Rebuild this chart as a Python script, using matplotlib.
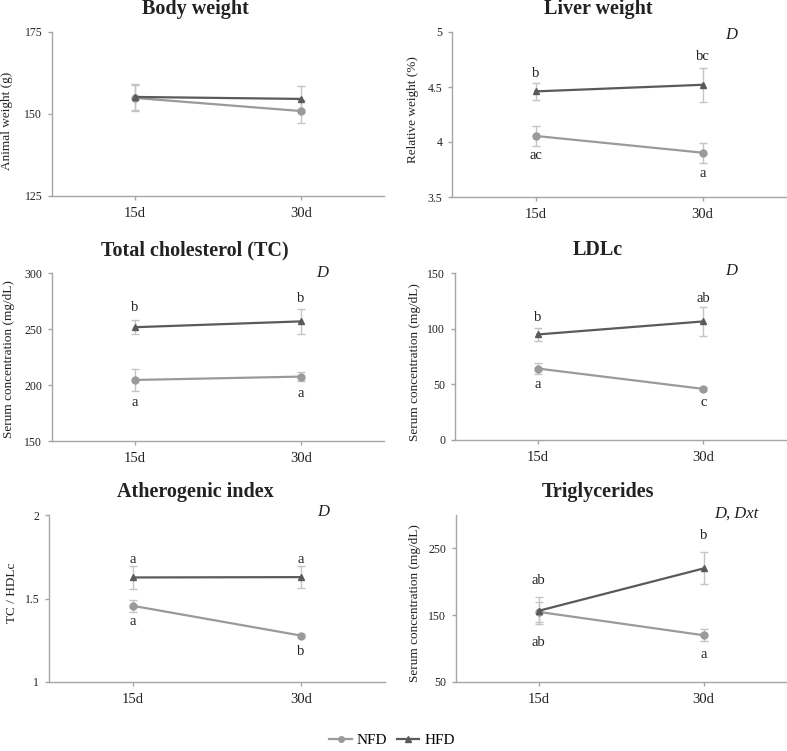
import numpy as np
import matplotlib.pyplot as plt
from matplotlib.lines import Line2D
from matplotlib.ticker import FuncFormatter

plt.rcParams['font.family'] = ['Liberation Serif', 'DejaVu Serif']

days = ['15d', '30d']

# Body weight (g)
bw_nfd = [154.9, 150.9]
bw_nfd_err = [4.0, 3.5]
bw_hfd = [155.2, 154.6]
bw_hfd_err = [4.0, 4.0]

# Liver weight (% of body weight)
lw_nfd = [4.055, 3.903]
lw_nfd_err = [0.09, 0.09]
lw_hfd = [4.46, 4.52]
lw_hfd_err = [0.077, 0.155]

# Total cholesterol (mg/dL)
tc_nfd = [204.5, 207.5]
tc_nfd_err = [9.5, 4.0]
tc_hfd = [251.6, 256.8]
tc_hfd_err = [6.0, 11.0]

# LDLc (mg/dL)
ldl_nfd = [64.2, 45.9]
ldl_nfd_err = [5.0, 1.5]
ldl_hfd = [94.8, 106.5]
ldl_hfd_err = [6.0, 13.0]

# Atherogenic index (TC / HDLc)
ai_nfd = [1.456, 1.278]
ai_nfd_err = [0.035, 0.01]
ai_hfd = [1.626, 1.628]
ai_hfd_err = [0.07, 0.068]

# Triglycerides (mg/dL)
tg_nfd = [155.0, 120.0]
tg_nfd_err = [15.0, 9.0]
tg_hfd = [156.5, 220.0]
tg_hfd_err = [20.0, 24.0]

# significance letters per panel: (day index, y, letter)
lw_letters = [(0, 4.62, 'b'), (1, 4.78, 'bc'), (0, 3.88, 'ac'), (1, 3.71, 'a')]
tc_letters = [(0, 269, 'b'), (1, 277, 'b'), (0, 184, 'a'), (1, 192, 'a')]
ldl_letters = [(0, 110, 'b'), (1, 127.5, 'ab'), (0, 50, 'a'), (1, 34, 'c')]
ai_letters = [(0, 1.736, 'a'), (1, 1.736, 'a'), (0, 1.364, 'a'), (1, 1.18, 'b')]
tg_letters = [(1, 270, 'b'), (0, 201.5, 'ab'), (0, 109, 'ab'), (1, 91.5, 'a')]

NFD_C = '#9a9a9a'
HFD_C = '#5a5a5a'
ERR_C = '#c4c4c4'
AX_C = '#a6a6a6'
TXT_C = '#222222'

W, H = 787, 751
fig = plt.figure(figsize=(W / 100, H / 100), dpi=100)


def px_axes(x0, y0, x1, y1):
    return fig.add_axes([x0 / W, 1 - y1 / H, (x1 - x0) / W, (y1 - y0) / H])


panels = [
    dict(box=(52, 32, 384, 196), title='Body weight', tx=195, ty=9,
         ylabel='Animal weight (g)', lx=7, ly=121,
         nfd=bw_nfd, nfde=bw_nfd_err, hfd=bw_hfd, hfde=bw_hfd_err,
         ylim=(125, 175), yticks=[125, 150, 175], letters=[], note=None),
    dict(box=(452, 32, 786, 197), title='Liver weight', tx=598, ty=9,
         ylabel='Relative weight (%)', lx=413, ly=110,
         nfd=lw_nfd, nfde=lw_nfd_err, hfd=lw_hfd, hfde=lw_hfd_err,
         ylim=(3.5, 5), yticks=[3.5, 4, 4.5, 5], letters=lw_letters,
         note=('D', 2.17, 4.97)),
    dict(box=(52, 273, 384, 441), title='Total cholesterol (TC)', tx=195, ty=250,
         ylabel='Serum concentration (mg/dL)', lx=9, ly=359,
         nfd=tc_nfd, nfde=tc_nfd_err, hfd=tc_hfd, hfde=tc_hfd_err,
         ylim=(150, 300), yticks=[150, 200, 250, 300], letters=tc_letters,
         note=('D', 2.13, 300)),
    dict(box=(455, 273, 786, 440), title='LDLc', tx=598, ty=250,
         ylabel='Serum concentration (mg/dL)', lx=415, ly=362,
         nfd=ldl_nfd, nfde=ldl_nfd_err, hfd=ldl_hfd, hfde=ldl_hfd_err,
         ylim=(0, 150), yticks=[0, 50, 100, 150], letters=ldl_letters,
         note=('D', 2.17, 152)),
    dict(box=(49, 515, 385, 682), title='Atherogenic index', tx=195, ty=492,
         ylabel='TC / HDLc', lx=12, ly=593,
         nfd=ai_nfd, nfde=ai_nfd_err, hfd=ai_hfd, hfde=ai_hfd_err,
         ylim=(1, 2), yticks=[1, 1.5, 2], letters=ai_letters,
         note=('D', 2.13, 2.016)),
    dict(box=(456, 515, 786, 682), title='Triglycerides', tx=598, ty=492,
         ylabel='Serum concentration (mg/dL)', lx=415, ly=603,
         nfd=tg_nfd, nfde=tg_nfd_err, hfd=tg_hfd, hfde=tg_hfd_err,
         ylim=(50, 300), yticks=[50, 150, 250], letters=tg_letters,
         note=('D, Dxt', 2.2, 302)),
]

x = np.arange(1, len(days) + 1)

for p in panels:
    ax = px_axes(*p['box'])
    ax.errorbar(x, p['hfd'], yerr=p['hfde'], fmt='none', ecolor=ERR_C,
                elinewidth=1, capsize=3, capthick=1, zorder=1)
    ax.errorbar(x, p['nfd'], yerr=p['nfde'], fmt='none', ecolor=ERR_C,
                elinewidth=1, capsize=3, capthick=1, zorder=1)
    ax.plot(x, p['nfd'], color=NFD_C, lw=1.6, marker='o', ms=5, zorder=3)
    ax.plot(x, p['hfd'], color=HFD_C, lw=1.6, marker='^', ms=5, zorder=4)

    ax.set_xlim(0.5, 2.5)
    ax.set_ylim(*p['ylim'])
    ax.set_xticks(x)
    ax.set_xticklabels(days)
    ax.set_yticks(p['yticks'])
    ax.yaxis.set_major_formatter(FuncFormatter(lambda v, pos: '{:g}'.format(v)))
    for s in ['top', 'right']:
        ax.spines[s].set_visible(False)
    for s in ['left', 'bottom']:
        ax.spines[s].set_color(AX_C)
        ax.spines[s].set_linewidth(1)
    ax.tick_params(axis='y', colors=AX_C, labelcolor=TXT_C, labelsize=8.5,
                   length=3, width=1, pad=4)
    ax.tick_params(axis='x', colors=AX_C, labelcolor=TXT_C, labelsize=10.5,
                   length=3, width=1, pad=5)
    ax.patch.set_alpha(0)

    for i, yv, lt in p['letters']:
        ax.text(x[i], yv, lt, ha='center', va='center', fontsize=10.5,
                color=TXT_C)
    if p['note']:
        txt, nx, ny = p['note']
        ax.text(nx, ny, txt, ha='center', va='center', fontsize=12,
                style='italic', color=TXT_C, clip_on=False)

    fig.text(p['tx'] / W, 1 - p['ty'] / H, p['title'], ha='center',
             va='center', fontsize=14.5, fontweight='bold', color=TXT_C)
    fig.text(p['lx'] / W, 1 - p['ly'] / H, p['ylabel'], ha='center',
             va='center', rotation=90, fontsize=9.5, color=TXT_C)

handles = [
    Line2D([], [], color=NFD_C, lw=1.6, marker='o', ms=4, label='NFD'),
    Line2D([], [], color=HFD_C, lw=1.6, marker='^', ms=4, label='HFD'),
]
fig.legend(handles=handles, loc='center', bbox_to_anchor=(392 / W, 1 - 740 / H),
           ncol=2, frameon=False, fontsize=11, handlelength=1.5,
           handletextpad=0.3, columnspacing=0.6)

fig.savefig('out.png', dpi=100)
